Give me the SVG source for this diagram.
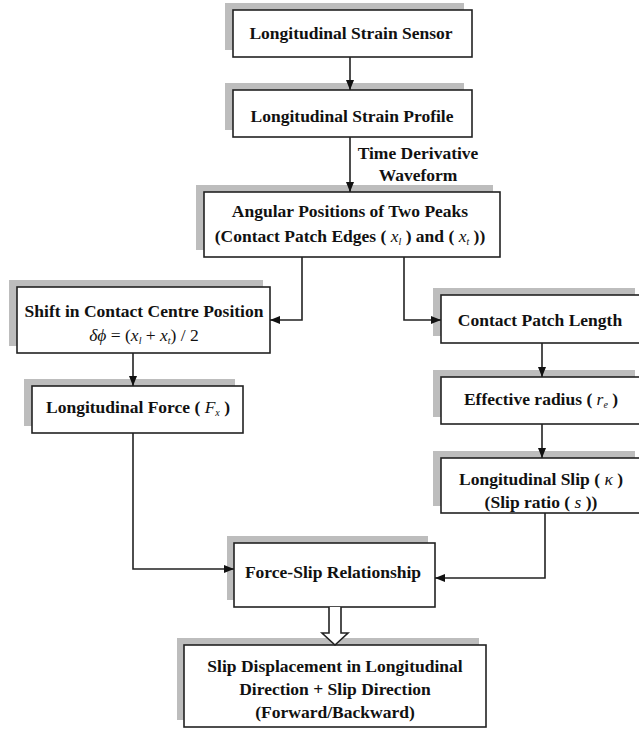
<svg xmlns="http://www.w3.org/2000/svg" width="639" height="732" viewBox="0 0 639 732">
<style>
.sh{fill:#bdbdbd;stroke:none}
.bx{fill:#fff;stroke:#222;stroke-width:1.6}
.t{font-family:"Liberation Serif","Times New Roman","DejaVu Serif",serif;font-weight:bold;font-size:17.5px;fill:#111;text-anchor:middle}
.m{font-style:italic;font-weight:normal}
.sb{font-style:italic;font-weight:normal;font-size:10px}
.c{fill:none;stroke:#222;stroke-width:1.6}
</style>
<defs>
<marker id="ah" markerUnits="userSpaceOnUse" markerWidth="10" markerHeight="10" viewBox="0 0 10 10" refX="10" refY="5" orient="auto">
<path d="M0,1 L10,5 L0,9 Z" fill="#111"/>
</marker>
</defs>
<rect x="0" y="0" width="639" height="732" fill="#fff"/>
<g id="n1">
<rect class="sh" x="225" y="3" width="239" height="47"/>
<rect class="bx" x="233" y="10" width="239" height="47"/>
<text class="t" x="351" y="39">Longitudinal Strain Sensor</text>
</g>
<g id="n2">
<rect class="sh" x="225" y="83" width="239" height="47"/>
<rect class="bx" x="233" y="90" width="239" height="47"/>
<text class="t" x="352" y="122">Longitudinal Strain Profile</text>
</g>
<g id="n3">
<rect class="sh" x="196" y="185" width="297" height="65"/>
<rect class="bx" x="204" y="192" width="296" height="65"/>
<text class="t" x="350" y="217">Angular Positions of Two Peaks</text>
<text class="t" x="350" y="242">(Contact Patch Edges ( <tspan class="m">x</tspan><tspan class="sb" dy="3">l</tspan><tspan dy="-3"> ) and ( </tspan><tspan class="m">x</tspan><tspan class="sb" dy="3">t</tspan><tspan dy="-3"> ))</tspan></text>
</g>
<g id="n4">
<rect class="sh" x="9" y="280" width="254" height="66"/>
<rect class="bx" x="17" y="287" width="253" height="66"/>
<text class="t" x="144" y="317">Shift in Contact Centre Position</text>
<text class="t" x="144" y="341"><tspan class="m">δϕ</tspan><tspan font-weight="normal"> = (</tspan><tspan class="m">x</tspan><tspan class="sb" dy="3">l</tspan><tspan font-weight="normal" dy="-3"> + </tspan><tspan class="m">x</tspan><tspan class="sb" dy="3">t</tspan><tspan font-weight="normal" dy="-3">) / 2</tspan></text>
</g>
<g id="n5">
<rect class="sh" x="433" y="288" width="202" height="48"/>
<rect class="bx" x="441" y="295" width="202" height="48"/>
<text class="t" x="540" y="326">Contact Patch Length</text>
</g>
<g id="n6">
<rect class="sh" x="433" y="370" width="202" height="47"/>
<rect class="bx" x="441" y="377" width="202" height="47"/>
<text class="t" x="541" y="405">Effective radius ( <tspan class="m">r</tspan><tspan class="sb" dy="3">e</tspan><tspan dy="-3"> )</tspan></text>
</g>
<g id="n7">
<rect class="sh" x="433" y="451" width="202" height="55"/>
<rect class="bx" x="441" y="458" width="202" height="55"/>
<text class="t" x="541" y="485">Longitudinal Slip ( <tspan class="m">κ</tspan> )</text>
<text class="t" x="541" y="508">(Slip ratio ( <tspan class="m">s</tspan> ))</text>
</g>
<g id="n8">
<rect class="sh" x="24" y="379" width="211" height="47"/>
<rect class="bx" x="32" y="386" width="211" height="47"/>
<text class="t" x="138" y="413">Longitudinal Force ( <tspan class="m">F</tspan><tspan class="sb" dy="3">x</tspan><tspan dy="-3"> )</tspan></text>
</g>
<g id="n9">
<rect class="sh" x="227" y="536" width="201" height="64"/>
<rect class="bx" x="234" y="543" width="201" height="64"/>
<text class="t" x="333" y="578">Force-Slip Relationship</text>
</g>
<g id="n10">
<rect class="sh" x="177" y="638" width="302" height="82"/>
<rect class="bx" x="184" y="645" width="302" height="82"/>
<text class="t" x="335" y="672">Slip Displacement in Longitudinal</text>
<text class="t" x="335" y="695">Direction + Slip Direction</text>
<text class="t" x="335" y="718">(Forward/Backward)</text>
</g>
<g id="connectors">
<path class="c" d="M350,57 V90" marker-end="url(#ah)"/>
<path class="c" d="M350,137 V192" marker-end="url(#ah)"/>
<path class="c" d="M302,257 V320 H270" marker-end="url(#ah)"/>
<path class="c" d="M404,257 V320 H441" marker-end="url(#ah)"/>
<path class="c" d="M542,343 V377" marker-end="url(#ah)"/>
<path class="c" d="M542,424 V458" marker-end="url(#ah)"/>
<path class="c" d="M545,513 V578 H435" marker-end="url(#ah)"/>
<path class="c" d="M133,353 V386" marker-end="url(#ah)"/>
<path class="c" d="M133,433 V569 H234" marker-end="url(#ah)"/>
<path d="M329,607 V633 H322 L335,645 L348,633 H341 V607" fill="#fff" stroke="#222" stroke-width="1.6"/>
<text class="t" x="418" y="159">Time Derivative</text>
<text class="t" x="418" y="181">Waveform</text>
</g>
</svg>
